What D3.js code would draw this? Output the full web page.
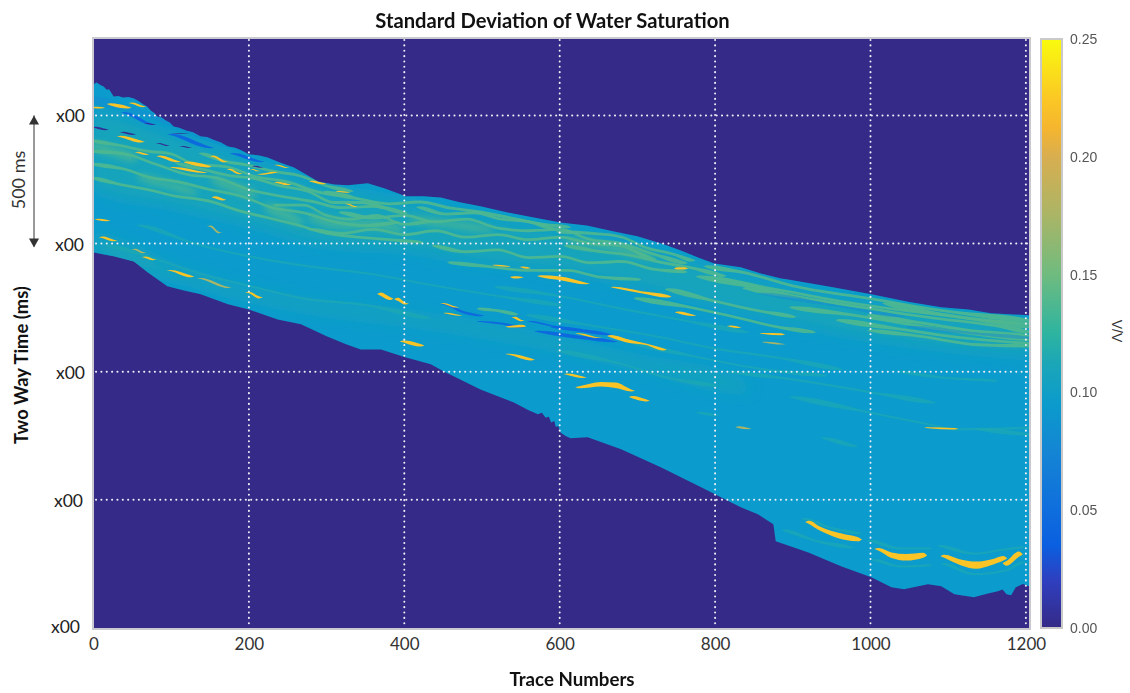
<!DOCTYPE html>
<html lang="en">
<head>
<meta charset="UTF-8">
<title>Standard Deviation of Water Saturation</title>
<script src="https://cdn.jsdelivr.net/npm/d3@7"></script>
<style>
body{margin:0;background:#fff}
svg{display:block}
</style>
</head>
<body>
<div id="grafica"></div>
<script>
// horizons, [trace, two way time ms]
const topHorizon=[[0,379],[4,372],[9,381],[13,387],[17,400],[20,398],[26,426],[32,424],[38,430],[45,428],[52,434],[58,444],[64,457],[69,465],[74,482],[78,490],[82,504],[88,508],[92,518],[98,528],[103,543],[110,548],[120,560],[128,566],[138,582],[146,584],[155,596],[164,606],[173,621],[182,626],[190,636],[200,652],[212,656],[224,664],[240,684],[258,703],[272,728],[289,758],[310,770],[327,773],[353,765],[375,785],[395,808],[401,816],[425,816],[447,820],[470,838],[498,855],[533,879],[565,897],[601,918],[635,930],[670,953],[700,972],[734,1003],[755,1026],[778,1054],[799,1078],[833,1093],[860,1118],[885,1136],[894,1140],[950,1170],[1001,1198],[1050,1228],[1091,1249],[1126,1257],[1155,1272],[1204,1280]]
const bottomHorizon=[[0,1035],[26,1050],[52,1070],[70,1113],[95,1167],[115,1182],[138,1198],[173,1237],[200,1257],[237,1296],[267,1315],[300,1362],[325,1393],[344,1413],[370,1413],[401,1444],[434,1471],[451,1499],[498,1569],[541,1620],[560,1650],[572,1666],[577,1660],[582,1680],[586,1676],[589,1698],[593,1692],[595,1716],[598,1712],[601,1737],[607,1750],[614,1760],[636,1756],[679,1803],[730,1873],[782,1951],[833,2029],[855,2056],[875,2095],[878,2162],[920,2205],[962,2259],[1001,2302],[1027,2341],[1043,2349],[1074,2329],[1091,2337],[1108,2368],[1133,2380],[1150,2366],[1164,2357],[1170,2350],[1175,2368],[1181,2372],[1187,2341],[1196,2328],[1204,2337]]

// wide zones of raised deviation, [trace, time, half thickness]
const zoneRows=[
 [[0,640,150],[99,715,140],[200,800,125],[305,895,115],[401,930,95],[498,985,90],[600,1030,75],[679,1075,75],[799,1170,70],[885,1235,65],[1001,1300,70],[1100,1345,65],[1204,1375,60]],
 [[0,1000,25],[120,1130,20],[260,1235,18],[400,1290,20],[560,1370,18],[700,1465,18],[840,1560,14]]
]

// blotches of green in the upper part
const greenPatches=[
 [[0,620,16],[26,640,20],[52,665,16]],
 [[155,750,14],[180,780,20],[206,810,14]],
 [[224,860,16],[245,885,22],[266,915,14]],
 [[280,900,12],[320,925,18],[360,925,18],[395,945,12]],
 [[60,740,10],[95,770,14],[130,800,10]],
 [[410,905,10],[460,925,14],[510,945,10]],
 [[610,985,10],[660,1010,14],[720,1050,10]]
]

// wavy green reflectors
const greenRows=[
 [[0,600],[30,615],[70,640],[100,650],[130,690],[170,700],[210,740],[250,760],[290,800],[330,815]],
 [[0,640],[40,650],[80,690],[120,730],[160,745],[200,790],[240,815],[280,835],[320,860],[360,855],[400,880]],
 [[0,690],[40,710],[70,740],[110,760],[150,790],[190,815],[230,860],[270,880],[310,915],[350,930],[390,918]],
 [[0,745],[35,770],[70,790],[105,815],[150,835],[185,870],[225,900],[260,925],[300,960],[340,975],[380,985],[420,995]],
 [[110,690],[140,710],[175,735],[205,745],[240,775],[275,795],[310,840],[345,840],[375,860]],
 [[140,650],[170,680],[200,695],[235,720],[265,735],[300,775],[330,795]],
 [[235,850],[270,850],[300,890],[330,905],[365,890],[400,925],[430,915]],
 [[300,800],[340,825],[380,845],[420,838],[460,862],[500,878],[540,902],[580,925],[610,935]],
 [[320,880],[360,900],[400,890],[440,915],[480,905],[520,940],[560,950],[600,945],[640,985],[680,1000],[720,1040],[760,1075]],
 [[280,945],[320,960],[360,945],[400,965],[440,950],[480,975],[520,965],[560,985],[600,975],[640,1000],[680,1010],[720,1060]],
 [[420,860],[455,885],[490,880],[525,905],[560,915],[590,940]],
 [[600,955],[640,960],[680,975],[710,1015],[745,1040],[770,1065]],
 [[440,1010],[480,1032],[520,1025],[560,1055],[600,1050],[640,1075],[680,1070],[720,1100],[760,1110]],
 [[610,1010],[650,1030],[690,1045],[725,1070],[770,1095],[810,1125]],
 [[460,1075],[510,1090],[560,1105],[610,1105],[650,1130],[700,1140]],
 [[790,1090],[840,1115],[900,1165],[1000,1215],[1100,1265],[1204,1300]],
 [[780,1130],[880,1180],[960,1225],[1040,1260],[1120,1290],[1204,1325]],
 [[840,1175],[920,1215],[1000,1255],[1080,1290],[1160,1320],[1204,1345]],
 [[900,1250],[980,1280],[1060,1320],[1140,1355],[1204,1375]],
 [[960,1300],[1040,1335],[1110,1365],[1180,1385],[1204,1390]],
 [[1001,1340],[1060,1360],[1140,1395],[1204,1400]],
 [[1020,1235],[1090,1275],[1150,1300],[1204,1312]],
 [[1000,1280],[1070,1312],[1130,1340],[1204,1360]],
 [[498,1255],[520,1262],[542,1275]],
 [[740,1180],[800,1225],[860,1265],[900,1285]],
 [[700,1215],[770,1250],[830,1290],[880,1325],[925,1345]]
]

// thin teal lines lower in the section
const tealRows=[
 [[20,1010],[80,1060],[140,1120],[200,1165],[270,1215],[350,1240],[430,1290]],
 [[60,930],[130,1000],[200,1050],[280,1090],[360,1120],[440,1165],[520,1205],[600,1240]],
 [[520,1170],[600,1205],[680,1255],[760,1300],[840,1345]],
 [[560,1280],[640,1320],[720,1360],[800,1410],[880,1445],[960,1490]],
 [[700,1395],[780,1445],[860,1490],[940,1515]],
 [[600,1420],[680,1470],[740,1525],[800,1555]],
 [[820,1500],[900,1530],[1000,1580],[1080,1620]],
 [[900,1600],[1000,1660],[1074,1705],[1110,1725],[1204,1720]],
 [[1140,1725],[1204,1745]],
 [[1040,1500],[1100,1525],[1160,1535]],
 [[890,2120],[930,2160],[975,2185]],
 [[915,2075],[950,2110],[985,2130]],
 [[1000,2160],[1040,2190],[1075,2190]],
 [[1005,2235],[1040,2260],[1075,2255]],
 [[1090,2180],[1135,2210],[1170,2195],[1195,2185]],
 [[1095,2250],[1135,2290],[1175,2275],[1195,2245]],
 [[780,1660],[800,1670]],
 [[940,1760],[980,1790]]
]

// low values, [trace, time, half thickness]
const paleBlueRows=[
 [[0,440,14],[40,470,12],[90,520,10],[150,590,12],[200,635,10],[250,665,8]],
 [[860,1195,3],[960,1245,3],[1040,1285,3]],
 [[1050,1325,4],[1130,1350,4],[1204,1368,4]]
]
const blueRows=[
 [[451,1237,2],[477,1269,5],[498,1281,3]],
 [[498,1304,2],[525,1312,4],[550,1327,3]],
 [[563,1304,2],[592,1323,3],[620,1335,3]],
 [[592,1327,3],[630,1340,6],[662,1354,4]],
 [[572,1343,3],[627,1366,6],[670,1382,3]],
 [[40,490,3],[75,535,3]],
 [[100,575,3],[150,625,3]],
 [[180,650,3],[215,680,3]]
]
const darkRows=[
 [[3,547,3],[15,555,3]],[[39,567,3],[50,574,3]],[[70,532,2],[76,536,2]],
 [[85,610,2],[93,617,2]],[[116,621,2],[122,625,2]],[[209,699,2],[214,702,2]],
 [[105,570,1],[118,572,1]]
]

// high streaks, [trace, time, half thickness]
const orangeRows=[
 [[921,2088,6],[934,2111,8],[949,2130,9],[968,2146,11],[984,2154,8]],
 [[1010,2193,5],[1027,2216,11],[1046,2224,13],[1068,2216,10]],
 [[1095,2220,6],[1116,2244,11],[1136,2255,14],[1155,2244,11],[1171,2228,9]],
 [[1175,2248,9],[1191,2212,10]],
 [[625,1561,4],[653,1549,9],[672,1553,11],[692,1573,4]],
 [[694,1600,5],[711,1612,4]],
 [[576,1128,4],[601,1136,7],[634,1156,3]],
 [[670,1171,2],[705,1190,4],[739,1206,5]],
 [[752,1097,4],[760,1097,4]],[[753,1269,4],[771,1280,3]],[[820,1323,3],[829,1327,3]],[[862,1351,2],[885,1354,4]],
 [[370,1198,7],[381,1214,6]],[[392,1218,6],[401,1234,4]],[[399,1382,4],[421,1397,5]],
 [[535,1432,2],[563,1452,4]],
 [[666,1362,5],[685,1378,7],[711,1393,3],[733,1413,4]],
 [[518,1085,2],[532,1089,2]],[[553,1093,3],[558,1095,3]],[[541,1132,4],[549,1132,3]],
 [[1074,1719,2],[1108,1723,3]],[[610,1510,3],[630,1522,3]],
 [[22,457,4],[44,469,4]],[[50,453,3],[63,465,3]],[[0,469,3],[10,470,3]],
 [[35,582,3],[61,602,4]],[[86,660,3],[108,680,3]],[[121,684,4],[147,699,4]],[[103,703,2],[142,723,2]],
 [[58,645,3],[67,652,3]],[[155,660,3],[168,680,3]],[[176,711,3],[187,727,3]],[[206,711,2],[210,716,2]],
 [[215,730,2],[232,723,3]],[[237,762,3],[250,770,3]],[[237,695,2],[247,703,2]],[[282,758,3],[295,766,3]],
 [[316,797,2],[325,800,2]],[[328,847,2],[335,855,2]],[[157,820,4],[166,828,4]],
 [[6,906,3],[17,910,3]],[[12,976,3],[26,988,3]],[[67,1054,3],[76,1062,3]],[[99,1105,2],[125,1128,4]],
 [[200,1191,3],[213,1210,4]],[[451,1234,2],[466,1248,2]],[[455,1272,2],[470,1280,2]],
 [[543,1290,4],[550,1300,3]],[[535,1325,3],[552,1322,5]],[[625,1352,2],[650,1368,1]]
]
const oliveRows=[[[54,1023,3],[63,1035,3]],[[138,1136,2],[173,1171,2]],[[151,933,3],[161,957,3]],[[831,1717,4],[842,1722,3]],[[865,1385,2],[885,1392,2]],[[1074,1195,1],[1090,1202,1]]]

const zoneValue=0.112, greenValue=0.138, tealValue=0.115, paleBlueValue=0.08, deepBlueValue=0.045, darkValue=0.005, orangeValue=0.222, oliveValue=0.175
const bodyValue=0.095

const xTicks=[0,200,400,600,800,1000,1200]
const xGrid=[200,400,600,800,1000,1200]
const yTicks=[500,1000,1500,2000,2500]
const yGrid=[500,1000,1500,2000]
const cTicks=[0,0.05,0.1,0.15,0.2,0.25]
const colorValues=[0,0.02,0.035,0.05,0.075,0.095,0.112,0.125,0.15,0.175,0.2,0.212,0.225,0.25]
const colorHex=['#352a87','#2f3fbf','#0a5fe0','#0f6edd','#1485d4','#0b9bcc','#1ba6b8','#2db4a0','#6fbb7f','#aab566','#d8ae50','#f5b52f','#fbc824','#f9fb0e']

var ancho=1130, alto=693
var x=d3.scaleLinear().domain([0,1204]).range([93.5,1029])
var y=d3.scaleLinear().domain([202,2500]).range([39,628])
var color=d3.scaleLinear().domain(colorValues).range(colorHex)

var svg=d3.select('#grafica').append('svg').attr('width',ancho).attr('height',alto)
var defs=svg.append('defs')
defs.append('clipPath').attr('id','plotClip').append('rect')
	.attr('x',94).attr('y',39).attr('width',935).attr('height',589)
// outline of the section for clipping the streaks
var outline=d3.line().x(function(d){return x(d[0])}).y(function(d){return y(d[1])})
defs.append('clipPath').attr('id','bodyClip').append('path')
	.attr('d',outline(topHorizon.concat(bottomHorizon.slice().reverse()))+'Z')
defs.append('filter').attr('id','soft').attr('x','-5%').attr('y','-5%').attr('width','110%').attr('height','110%')
	.append('feGaussianBlur').attr('stdDeviation',0.65)
defs.append('filter').attr('id','sharp').attr('x','-5%').attr('y','-5%').attr('width','110%').attr('height','110%')
	.append('feGaussianBlur').attr('stdDeviation',0.45)
defs.append('filter').attr('id','softWide').attr('x','-5%').attr('y','-30%').attr('width','110%').attr('height','160%')
	.append('feGaussianBlur').attr('stdDeviation',7)
defs.append('filter').attr('id','softMid').attr('x','-5%').attr('y','-10%').attr('width','110%').attr('height','120%')
	.append('feGaussianBlur').attr('stdDeviation',3)
var gradiente=defs.append('linearGradient').attr('id','barraColor').attr('x1',0).attr('x2',0).attr('y1',1).attr('y2',0)
gradiente.selectAll('stop').data(colorValues).enter().append('stop')
	.attr('offset',function(d){return d/0.25})
	.attr('stop-color',function(d){return color(d)})

// plot background
svg.append('rect').attr('x',93).attr('y',38).attr('width',937).attr('height',591)
	.attr('fill',color(0)).attr('stroke','#c9c9cf').attr('stroke-width',2)

var plot=svg.append('g').attr('clip-path','url(#plotClip)')
plot.append('path').attr('d',outline(topHorizon.concat(bottomHorizon.slice().reverse()))+'Z').attr('fill',color(bodyValue))

var streakArea=d3.area()
	.x(function(d){return x(d[0])})
	.y0(function(d){return y(d[1]-d[2])})
	.y1(function(d){return y(d[1]+d[2])})
	.curve(d3.curveMonotoneX)

// streak ends come to a point
function taper(row,half) {
	var pts=row.map(function(p){return [p[0],p[1],p[2]===undefined?half:p[2]]})
	var a=pts[0], b=pts[pts.length-1]
	return [[a[0]-5,a[1]-1,0]].concat(pts,[[b[0]+5,b[1]+1,0]])
}
var inside=plot.append('g').attr('clip-path','url(#bodyClip)')
function drawRows(rows,value,half,opacity,filtro) {
	inside.append('g').attr('filter',filtro).selectAll('path').data(rows).enter()
		.append('path')
		.attr('d',function(d){return streakArea(taper(d,half))})
		.attr('fill',color(value))
		.attr('opacity',opacity)
}
drawRows(zoneRows,zoneValue,0,0.85,'url(#softWide)')
drawRows(tealRows,tealValue,4,0.7,'url(#soft)')
drawRows(greenPatches,greenValue,0,0.7,'url(#softMid)')
drawRows(greenRows,greenValue,5.5,0.9,'url(#soft)')
drawRows(paleBlueRows,paleBlueValue,0,0.5,'url(#soft)')
drawRows(blueRows,deepBlueValue,0,1,'url(#sharp)')
drawRows(darkRows,darkValue,0,1,'url(#sharp)')
drawRows(oliveRows,oliveValue,0,1,'url(#sharp)')
drawRows(orangeRows,orangeValue,0,1,'url(#sharp)')

// grid
var grid=svg.append('g').attr('fill','none').attr('stroke','#f1eff8').attr('stroke-width',2)
	.attr('stroke-linecap','round').attr('stroke-dasharray','0.1 5.25')
grid.selectAll('.gx').data(xGrid).enter().append('line')
	.attr('x1',function(d){return x(d)}).attr('x2',function(d){return x(d)}).attr('y1',40).attr('y2',628)
grid.selectAll('.gy').data(yGrid).enter().append('line')
	.attr('x1',96).attr('x2',1028).attr('y1',function(d){return y(d)}).attr('y2',function(d){return y(d)})

// ejes
var fuente='Lato, "Open Sans", sans-serif'
var axisX=svg.append('g').attr('transform','translate(0,635)')
	.call(d3.axisBottom(x).tickValues(xTicks).tickSize(0).tickPadding(3).tickFormat(d3.format('d')))
axisX.select('.domain').remove()
axisX.selectAll('text').attr('font-family',fuente).attr('font-size',17).attr('fill','#333')
var axisY=svg.append('g').attr('transform','translate(85,1)')
	.call(d3.axisLeft(y).tickValues(yTicks).tickSize(0).tickPadding(0).tickFormat(function(){return 'x00'}))
axisY.select('.domain').remove()
axisY.selectAll('text').attr('font-family',fuente).attr('font-size',17.5).attr('fill','#222')
	.attr('dx',function(d,i){return [0,-1,0,-2,-5][i]})
	.attr('dy',function(d,i){return i==4?'0.2em':'0.32em'})

svg.append('text').attr('x',552.5).attr('y',28).attr('text-anchor','middle')
	.attr('font-family',fuente).attr('font-weight',700).attr('font-size',20.2).attr('fill','#111')
	.text('Standard Deviation of Water Saturation')
svg.append('text').attr('x',572).attr('y',686).attr('text-anchor','middle')
	.attr('font-family',fuente).attr('font-weight',700).attr('font-size',18.7).attr('fill','#111')
	.text('Trace Numbers')
svg.append('text').attr('transform','translate(28,365) rotate(-90)').attr('text-anchor','middle')
	.attr('font-family',fuente).attr('font-weight',700).attr('font-size',18.4).attr('fill','#111')
	.text('Two Way Time (ms)')
svg.append('text').attr('transform','translate(25,180) rotate(-90)').attr('text-anchor','middle')
	.attr('font-family',fuente).attr('font-size',18).attr('fill','#333')
	.text('500 ms')

// flecha 500 ms
var flecha=svg.append('g').attr('fill','#333').attr('stroke','#333')
flecha.append('line').attr('x1',34).attr('x2',34).attr('y1',y(500)).attr('y2',y(1000)+3).attr('stroke-width',1)
flecha.append('path').attr('stroke','none')
	.attr('d',d3.line()([[29,y(500)+9],[34,y(500)],[39,y(500)+9]])+'Z')
flecha.append('path').attr('stroke','none')
	.attr('d',d3.line()([[29,y(1000)-5],[34,y(1000)+4],[39,y(1000)-5]])+'Z')

// barra de color
var cy=d3.scaleLinear().domain([0,0.25]).range([628,39])
svg.append('rect').attr('x',1041).attr('y',39).attr('width',21).attr('height',589)
	.attr('fill','url(#barraColor)').attr('stroke','#c9c9c9').attr('stroke-width',2)
var axisC=svg.append('g').attr('transform','translate(1062,0)')
	.call(d3.axisRight(cy).tickValues(cTicks).tickSize(0).tickPadding(8).tickFormat(d3.format('.2f')))
axisC.select('.domain').remove()
axisC.selectAll('text').attr('font-family','"Liberation Sans", Arial, sans-serif').attr('font-size',14).attr('fill','#555')
svg.append('text').attr('transform','translate(1112,331) rotate(90)').attr('text-anchor','middle')
	.attr('font-family','"Liberation Sans", Arial, sans-serif').attr('font-size',14).attr('fill','#333')
	.text('V/V')
</script>
</body>
</html>
